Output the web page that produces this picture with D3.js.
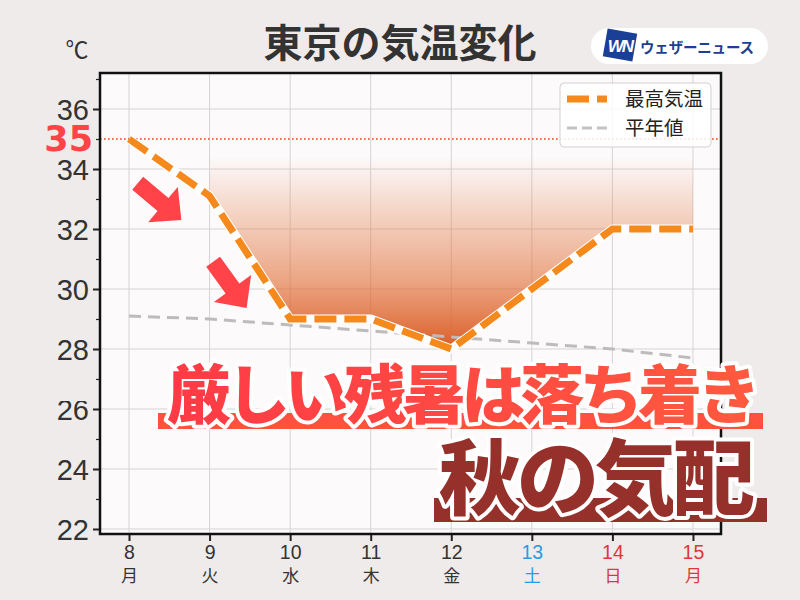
<!DOCTYPE html>
<html>
<head>
<meta charset="utf-8">
<script src="https://cdn.jsdelivr.net/npm/d3@7"></script>
<style>
  body { margin: 0; background: #efebea; }
  svg { display: block; }
</style>
</head>
<body>
<svg id="chart"></svg>
<script>
const days = [8, 9, 10, 11, 12, 13, 14, 15]
const weekdays = ['月', '火', '水', '木', '金', '土', '日', '月']
const dayColors = ['#333', '#333', '#333', '#333', '#333', '#2a9be0', '#e0353a', '#e0353a']
const maxTemp = [35, 33.1, 29, 29, 28, 30, 32, 32]
const normalTemp = [29.1, 29.0, 28.8, 28.6, 28.4, 28.2, 28.0, 27.7]
const yMajor = [22, 24, 26, 28, 30, 32, 34, 36]
const yMinor = [23, 25, 27, 29, 31, 33, 35, 37]
const hotLine = 35
// arrow annotations: tip position in data units, direction in degrees
const arrows = [{ day: 8.65, temp: 32.3, angle: 40 }, { day: 9.46, temp: 29.37, angle: 54 }]

const W = 800, H = 600
const plot = { left: 100, right: 721, top: 73, bottom: 534 }

const svg = d3.select('#chart').attr('width', W).attr('height', H)
svg.append('rect').attr('width', W).attr('height', H).attr('fill', '#efebea')

const x = d3.scaleLinear().domain([7.64, 15.348]).range([plot.left, plot.right])
const y = d3.scaleLinear().domain([21.833, 37.2]).range([plot.bottom, plot.top])

const defs = svg.append('defs')
const grad = defs.append('linearGradient').attr('id', 'fillGrad')
  .attr('gradientUnits', 'userSpaceOnUse')
  .attr('x1', 0).attr('x2', 0).attr('y1', y(34.4)).attr('y2', y(28))
grad.append('stop').attr('offset', 0).attr('stop-color', '#e2763f').attr('stop-opacity', 0)
grad.append('stop').attr('offset', 0.3).attr('stop-color', '#e2763f').attr('stop-opacity', 0.3)
grad.append('stop').attr('offset', 0.65).attr('stop-color', '#e06a30').attr('stop-opacity', 0.6)
grad.append('stop').attr('offset', 1).attr('stop-color', '#d9541a').attr('stop-opacity', 0.95)

const txtGrad = defs.append('linearGradient').attr('id', 'txtGrad')
txtGrad.append('stop').attr('offset', 0).attr('stop-color', '#ff3a46')
txtGrad.append('stop').attr('offset', 1).attr('stop-color', '#ff5a3e')

// title
svg.append('text')
  .attr('x', 400).attr('y', 57)
  .attr('text-anchor', 'middle')
  .style('font-family', '"Noto Sans CJK JP"')
  .style('font-weight', 700)
  .style('font-size', '39px')
  .attr('fill', '#333')
  .text('東京の気温変化')

// logo
const logo = svg.append('g')
logo.append('rect').attr('x', 591).attr('y', 28).attr('width', 177).attr('height', 36)
  .attr('rx', 18).attr('fill', '#fff')
logo.append('rect').attr('x', 605).attr('y', 31).attr('width', 30).attr('height', 28)
  .attr('fill', '#1a3f97')
  .attr('transform', 'rotate(10 620 45)')
logo.append('text')
  .attr('x', 620).attr('y', 52)
  .attr('text-anchor', 'middle')
  .style('font-family', '"Liberation Sans"')
  .style('font-weight', 700).style('font-style', 'italic')
  .style('font-size', '17px')
  .attr('fill', '#fff')
  .attr('letter-spacing', -2)
  .text('WN')
logo.append('text')
  .attr('x', 640).attr('y', 53)
  .style('font-family', '"Noto Sans CJK JP"')
  .style('font-weight', 700)
  .style('font-size', '14.5px')
  .attr('fill', '#1c3f94')
  .attr('textLength', 114)
  .text('ウェザーニュース')

// degree label
svg.append('text')
  .attr('x', 77).attr('y', 58)
  .attr('text-anchor', 'middle')
  .style('font-family', '"Noto Sans CJK JP"')
  .style('font-size', '23px')
  .attr('fill', '#333')
  .text('℃')

// plot background
svg.append('rect')
  .attr('x', plot.left).attr('y', plot.top)
  .attr('width', plot.right - plot.left).attr('height', plot.bottom - plot.top)
  .attr('fill', '#fcfafb')

// grid
const grid = svg.append('g').attr('stroke', '#d8d3d3').attr('stroke-width', 1)
grid.selectAll('.gx').data(days).join('line')
  .attr('x1', (d) => x(d)).attr('x2', (d) => x(d))
  .attr('y1', plot.top).attr('y2', plot.bottom)
grid.selectAll('.gy').data(yMajor).join('line')
  .attr('x1', plot.left).attr('x2', plot.right)
  .attr('y1', (d) => y(d)).attr('y2', (d) => y(d))

// gradient fill from 9th to 15th
const fillData = days.map((d, i) => ({ day: d, temp: maxTemp[i] })).slice(1)
const area = d3.area()
  .x((d) => x(d.day))
  .y0(y(34.6))
  .y1((d) => y(d.temp))
svg.append('path').datum(fillData)
  .attr('d', area)
  .attr('fill', 'url(#fillGrad)')

// 35 degree dotted line
svg.append('line')
  .attr('x1', plot.left).attr('x2', plot.right)
  .attr('y1', y(hotLine)).attr('y2', y(hotLine))
  .attr('stroke', '#ff3a1a').attr('stroke-width', 1.6)
  .attr('stroke-dasharray', '1.6,2.4')

// normal temperature
const line = d3.line().x((d) => x(d.day)).y((d) => y(d.temp))
const normalData = days.map((d, i) => ({ day: d, temp: normalTemp[i] }))
svg.append('path').datum(normalData)
  .attr('d', line)
  .attr('fill', 'none')
  .attr('stroke', '#bdbbbb').attr('stroke-width', 3)
  .attr('stroke-dasharray', '12,7')

// max temperature
const maxData = days.map((d, i) => ({ day: d, temp: maxTemp[i] }))
svg.append('path').datum(maxData)
  .attr('d', line)
  .attr('fill', 'none')
  .attr('stroke', '#fff').attr('stroke-width', 9)
  .attr('stroke-linejoin', 'round')
svg.append('path').datum(maxData)
  .attr('d', line)
  .attr('fill', 'none')
  .attr('stroke', '#f5891c').attr('stroke-width', 7)
  .attr('stroke-dasharray', '22,8')

// arrows
const arrowShape = 'M0,0 L-24,-23 L-24,-8.5 L-57,-8.5 L-57,8.5 L-24,8.5 L-24,23 Z'
svg.selectAll('.arrow').data(arrows).join('path')
  .attr('d', arrowShape)
  .attr('fill', '#ff4348')
  .attr('transform', (d) => `translate(${x(d.day)},${y(d.temp)}) rotate(${d.angle})`)

// border
svg.append('rect')
  .attr('x', plot.left).attr('y', plot.top)
  .attr('width', plot.right - plot.left).attr('height', plot.bottom - plot.top)
  .attr('fill', 'none').attr('stroke', '#111').attr('stroke-width', 2.5)

// y axis
const yAxis = svg.append('g')
  .attr('transform', `translate(${plot.left - 1},0)`)
  .call(d3.axisLeft(y).tickValues(yMajor).tickSize(6).tickSizeOuter(0).tickPadding(4))
yAxis.select('.domain').remove()
yAxis.selectAll('.tick line').attr('stroke', '#222').attr('stroke-width', 2)
yAxis.selectAll('.tick text')
  .style('font-family', '"Liberation Sans"')
  .style('font-size', '29px')
  .attr('fill', '#333')
  .attr('dy', '0.36em')
svg.append('g')
  .attr('transform', `translate(${plot.left - 1},0)`)
  .call(d3.axisLeft(y).tickValues(yMinor).tickSize(3).tickFormat(''))
  .call((g) => g.select('.domain').remove())
  .selectAll('.tick line').attr('stroke', '#222').attr('stroke-width', 1.2)

// hide top of "26" like the reference overlay
svg.append('rect').attr('x', 45).attr('y', 380).attr('width', 52).attr('height', 21)
  .attr('fill', '#efebea')

// 35 label
svg.append('text')
  .attr('x', 93).attr('y', y(hotLine) + 12.5)
  .attr('text-anchor', 'end')
  .style('font-family', '"DejaVu Sans"')
  .style('font-weight', 700)
  .style('font-size', '35px')
  .attr('fill', '#ff4448')
  .text(hotLine)

// x axis
const xAxis = svg.append('g')
  .attr('transform', `translate(0,${plot.bottom + 1})`)
  .call(d3.axisBottom(x).tickValues(days).tickSize(6).tickSizeOuter(0).tickFormat(''))
xAxis.select('.domain').remove()
xAxis.selectAll('.tick line').attr('stroke', '#222').attr('stroke-width', 2)
xAxis.selectAll('.tick').append('text')
  .attr('y', 24)
  .attr('text-anchor', 'middle')
  .style('font-family', '"Liberation Sans"')
  .style('font-size', '19.5px')
  .attr('fill', (d, i) => dayColors[i])
  .text((d) => d)
xAxis.selectAll('.tick').append('text')
  .attr('y', 47)
  .attr('text-anchor', 'middle')
  .style('font-family', '"Noto Sans CJK JP"')
  .style('font-size', '17px')
  .attr('fill', (d, i) => dayColors[i])
  .text((d, i) => weekdays[i])

// legend
const legend = svg.append('g')
legend.append('rect')
  .attr('x', 560).attr('y', 83).attr('width', 151).attr('height', 64)
  .attr('rx', 4)
  .attr('fill', '#fff').attr('fill-opacity', 0.85)
  .attr('stroke', '#d4d0d0').attr('stroke-width', 1)
legend.append('line')
  .attr('x1', 567).attr('x2', 607).attr('y1', 99).attr('y2', 99)
  .attr('stroke', '#f5891c').attr('stroke-width', 7)
  .attr('stroke-dasharray', '22,8')
legend.append('line')
  .attr('x1', 567).attr('x2', 607).attr('y1', 128).attr('y2', 128)
  .attr('stroke', '#c3c1c1').attr('stroke-width', 3)
  .attr('stroke-dasharray', '10,5')
legend.selectAll('.lt').data(['最高気温', '平年値']).join('text')
  .attr('x', 625).attr('y', (d, i) => 106 + i * 29)
  .style('font-family', '"Noto Sans CJK JP"')
  .style('font-size', '19.5px')
  .attr('fill', '#222')
  .text((d) => d)

// headline overlays
svg.append('rect').attr('x', 158).attr('y', 413).attr('width', 605).attr('height', 16)
  .attr('fill', '#ff5040')
svg.append('text')
  .attr('x', 167).attr('y', 418)
  .style('font-family', '"Noto Sans CJK JP"')
  .style('font-weight', 900)
  .style('font-size', '64px')
  .attr('fill', 'url(#txtGrad)')
  .attr('stroke', '#fff').attr('stroke-width', 8)
  .attr('stroke-linejoin', 'round')
  .attr('paint-order', 'stroke')
  .attr('textLength', 594)
  .text('厳しい残暑は落ち着き')

svg.append('rect').attr('x', 434).attr('y', 498).attr('width', 333).attr('height', 24)
  .attr('fill', '#95302a')
svg.append('text')
  .attr('x', 439).attr('y', 508)
  .style('font-family', '"Noto Sans CJK JP"')
  .style('font-weight', 900)
  .style('font-size', '82px')
  .attr('fill', '#95302a')
  .attr('stroke', '#fff').attr('stroke-width', 8)
  .attr('stroke-linejoin', 'round')
  .attr('paint-order', 'stroke')
  .attr('textLength', 316)
  .text('秋の気配')
</script>
</body>
</html>
